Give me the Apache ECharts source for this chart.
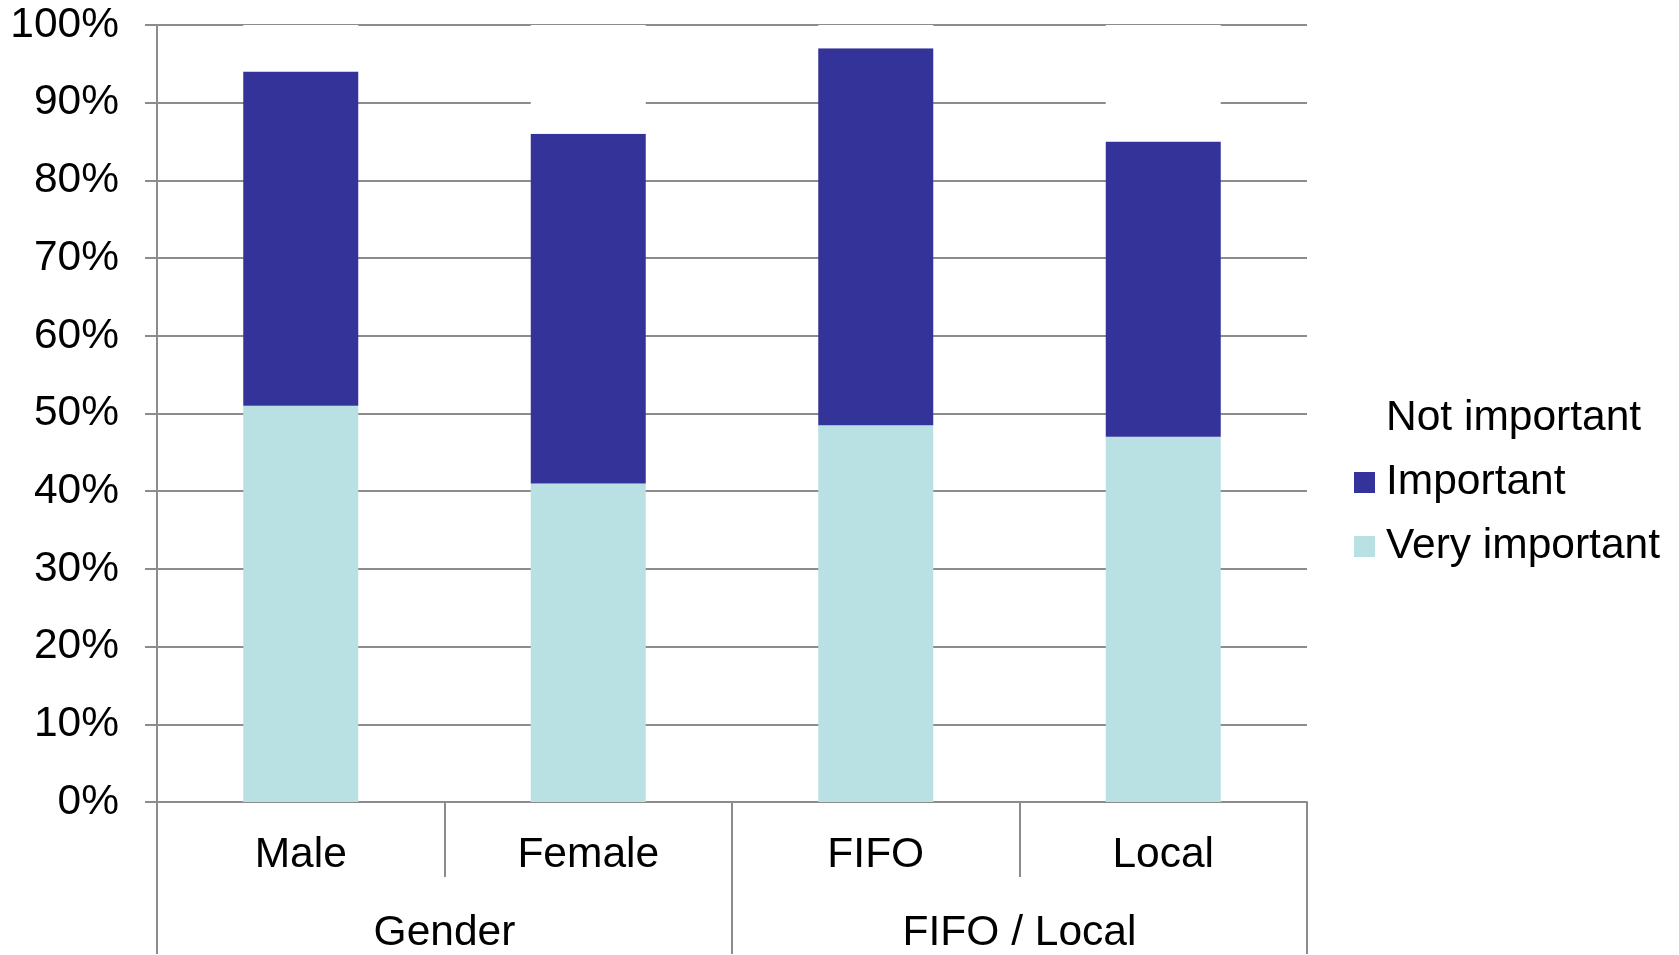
<!DOCTYPE html>
<html>
<head>
<meta charset="utf-8">
<script src="https://cdn.jsdelivr.net/npm/echarts@6/dist/echarts.min.js"></script>
<style>html,body{margin:0;padding:0;background:#fff}#c{width:1679px;height:955px}</style>
</head>
<body>
<div id="c"></div>
<script>
const categories = ['Male', 'Female', 'FIFO', 'Local'];
const groups = ['Gender', 'FIFO / Local'];
const veryImportant = [51, 41, 48.5, 47];
const important = [43, 45, 48.5, 38];
const notImportant = [6, 14, 3, 15];
const yTicks = [0, 10, 20, 30, 40, 50, 60, 70, 80, 90, 100];

const FONT = 'Liberation Sans, Arial, sans-serif';
const FS = 42.5;
const GRID = '#8c8c8c';
const chart = echarts.init(document.getElementById('c'));
chart.setOption({
  animation: false,
  backgroundColor: '#fff',
  grid: { left: 157, right: 372, top: 25, bottom: 152, containLabel: false },
  legend: {
    orient: 'vertical',
    left: 1349,
    top: 392,
    itemWidth: 21,
    itemHeight: 21,
    itemGap: 21,
    icon: 'rect',
    selectedMode: false,
    data: ['Not important', 'Important', 'Very important'],
    textStyle: { fontFamily: FONT, fontSize: FS, color: '#000', lineHeight: 42, padding: [0, 0, 0, 6] }
  },
  xAxis: [
    {
      type: 'category',
      data: categories,
      position: 'bottom',
      axisLine: { show: true, lineStyle: { color: GRID, width: 2 } },
      axisTick: { show: true, length: 75, interval: 0, lineStyle: { color: GRID, width: 2 } },
      axisLabel: { fontFamily: FONT, fontSize: FS, color: '#000', margin: 32, interval: 0 },
      splitLine: { show: false }
    },
    {
      type: 'category',
      data: groups,
      position: 'bottom',
      axisLine: { show: false },
      axisTick: { show: true, length: 152, interval: 0, lineStyle: { color: GRID, width: 2 } },
      axisLabel: { fontFamily: FONT, fontSize: FS, color: '#000', margin: 110, interval: 0 },
      splitLine: { show: false }
    }
  ],
  yAxis: {
    type: 'value',
    min: yTicks[0],
    max: yTicks[yTicks.length - 1],
    interval: 10,
    axisLine: { show: true, lineStyle: { color: GRID, width: 2 } },
    axisTick: { show: true, length: 12, lineStyle: { color: GRID, width: 2 } },
    axisLabel: { fontFamily: FONT, fontSize: FS, color: '#000', margin: 38, formatter: '{value}%', padding: [10, 0, 0, 0] },
    splitLine: { show: true, lineStyle: { color: GRID, width: 2 } }
  },
  series: [
    { name: 'Very important', type: 'bar', stack: 'total', data: veryImportant, barWidth: '40%',
      itemStyle: { color: '#b9e0e2' }, emphasis: { disabled: true } },
    { name: 'Important', type: 'bar', stack: 'total', data: important, barWidth: '40%',
      itemStyle: { color: '#343399' }, emphasis: { disabled: true } },
    { name: 'Not important', type: 'bar', stack: 'total', data: notImportant, barWidth: '40%',
      itemStyle: { color: '#ffffff' }, emphasis: { disabled: true } }
  ]
});
</script>
</body>
</html>
